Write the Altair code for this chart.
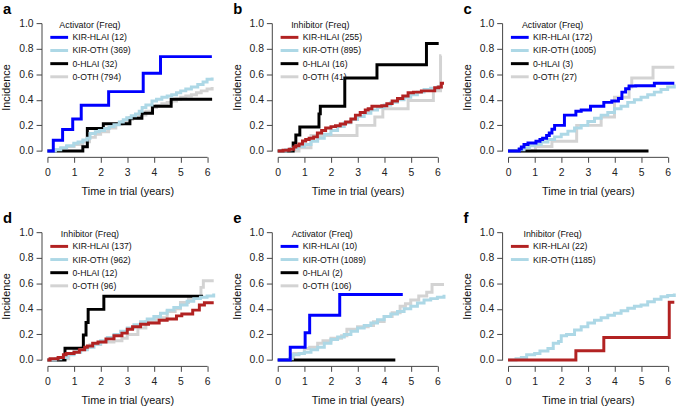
import altair as alt
import pandas as pd

FONT = "Liberation Sans"

# ---- cumulative incidence step curves (time in years, incidence) ----
# panel a: activator
a_kir_hlai_t = [0, 0.22, 0.57, 0.95, 1.27, 2.30, 3.60, 4.25, 6.18]
a_kir_hlai_v = [0, 0.083, 0.167, 0.25, 0.357, 0.464, 0.607, 0.738, 0.738]
a_kir_oth_t = [0, 0.3, 0.5, 0.72, 0.99, 1.15, 1.33, 1.5, 1.6, 1.8, 1.95, 2.15, 2.32, 2.5, 2.7,
               2.85, 2.98, 3.15, 3.31, 3.45, 3.56, 3.7, 3.93, 4.1, 4.3, 4.5, 4.67, 4.85, 5.01,
               5.2, 5.41, 5.65, 5.85, 6.0, 6.19]
a_kir_oth_v = [0, 0.01, 0.025, 0.04, 0.06, 0.07, 0.085, 0.1, 0.137, 0.15, 0.16, 0.175, 0.19, 0.205,
               0.227, 0.245, 0.26, 0.275, 0.29, 0.31, 0.34, 0.36, 0.39, 0.405, 0.42, 0.43, 0.44,
               0.455, 0.47, 0.485, 0.5, 0.52, 0.54, 0.56, 0.575]
a_0_hlai_t = [0, 1.33, 1.5, 2.1, 3.1, 3.55, 3.95, 4.65, 6.19]
a_0_hlai_v = [0, 0.033, 0.175, 0.213, 0.255, 0.295, 0.35, 0.405, 0.405]
a_0_oth_t = [0, 0.3, 0.5, 0.72, 1.0, 1.33, 1.58, 1.8, 2.0, 2.3, 2.57, 2.8, 3.0, 3.2, 3.43, 3.7,
             3.93, 4.1, 4.3, 4.5, 4.67, 4.85, 5.01, 5.2, 5.41, 5.6, 5.78, 6.0, 6.19]
a_0_oth_v = [0, 0.01, 0.02, 0.034, 0.05, 0.072, 0.106, 0.13, 0.15, 0.18, 0.21, 0.23, 0.245, 0.26,
             0.28, 0.31, 0.34, 0.355, 0.37, 0.38, 0.39, 0.405, 0.42, 0.43, 0.44, 0.455, 0.47,
             0.485, 0.5]

# panel b: inhibitor
b_kir_hlai_t = [0, 0.2, 0.43, 0.6, 0.68, 0.8, 0.93, 1.05, 1.18, 1.35, 1.49, 1.65, 1.8, 2.0, 2.17,
                2.35, 2.55, 2.75, 2.92, 3.1, 3.29, 3.4, 3.54, 3.75, 3.91, 4.1, 4.3, 4.5, 4.7,
                4.9, 5.1, 5.4, 5.6, 5.9, 6.05, 6.15, 6.25]
b_kir_hlai_v = [0, 0.005, 0.013, 0.03, 0.04, 0.055, 0.077, 0.09, 0.1, 0.11, 0.14, 0.16, 0.18, 0.19,
                0.197, 0.21, 0.226, 0.25, 0.28, 0.3, 0.32, 0.33, 0.35, 0.35, 0.354, 0.37, 0.39,
                0.41, 0.43, 0.456, 0.46, 0.47, 0.47, 0.495, 0.5, 0.53, 0.53]
b_kir_oth_t = [0, 0.3, 0.5, 0.75, 1.0, 1.25, 1.5, 1.75, 2.0, 2.25, 2.5, 2.75, 3.0, 3.25, 3.5, 3.75,
               4.0, 4.25, 4.5, 4.75, 5.0, 5.25, 5.5, 5.75, 6.0, 6.15]
b_kir_oth_v = [0, 0.01, 0.02, 0.035, 0.05, 0.075, 0.1, 0.13, 0.16, 0.19, 0.22, 0.245, 0.27, 0.295,
               0.32, 0.34, 0.36, 0.38, 0.4, 0.42, 0.44, 0.46, 0.48, 0.49, 0.5, 0.51]
b_0_hlai_t = [0, 0.58, 0.68, 0.83, 1.55, 1.6, 2.52, 3.73, 5.59, 6.05]
b_0_hlai_v = [0, 0.0625, 0.125, 0.1875, 0.29, 0.35, 0.57, 0.675, 0.84, 0.84]
b_0_oth_t = [0, 0.8, 1.25, 2.98, 3.65, 3.95, 4.9, 5.85, 6.12, 6.15]
b_0_oth_v = [0, 0.025, 0.12, 0.2, 0.265, 0.33, 0.395, 0.47, 0.745, 0.745]

# panel c: activator
c_kir_hlai_t = [0, 0.42, 0.5, 0.6, 0.75, 1.05, 1.2, 1.3, 1.45, 1.55, 1.65, 1.75, 2.05, 2.12, 2.55,
                2.75, 3.1, 3.5, 3.6, 3.9, 4.15, 4.28, 4.42, 4.55, 4.8, 5.5, 6.25]
c_kir_hlai_v = [0, 0.015, 0.03, 0.05, 0.062, 0.075, 0.09, 0.1, 0.12, 0.14, 0.17, 0.2, 0.2, 0.28,
                0.31, 0.32, 0.35, 0.35, 0.38, 0.39, 0.41, 0.46, 0.487, 0.508, 0.51, 0.53, 0.53]
c_kir_oth_t = [0, 0.4, 0.6, 0.8, 1.0, 1.25, 1.5, 1.75, 2.0, 2.25, 2.5, 2.75, 3.0, 3.25, 3.5, 3.75,
               4.0, 4.25, 4.5, 4.75, 5.0, 5.25, 5.5, 5.75, 6.0, 6.25]
c_kir_oth_v = [0, 0.01, 0.025, 0.04, 0.05, 0.07, 0.09, 0.11, 0.13, 0.155, 0.18, 0.2, 0.23, 0.255,
               0.28, 0.3, 0.33, 0.35, 0.38, 0.4, 0.42, 0.44, 0.46, 0.48, 0.5, 0.52]
c_0_hlai_t = [0, 5.28]
c_0_hlai_v = [0, 0]
c_0_oth_t = [0, 1.03, 1.65, 2.58, 3.5, 4.0, 4.55, 4.65, 5.45, 6.25]
c_0_oth_v = [0, 0.035, 0.075, 0.2, 0.265, 0.42, 0.5, 0.57, 0.655, 0.655]

# panel d: inhibitor
d_kir_hlai_t = [0, 0.1, 0.4, 0.6, 0.7, 1.0, 1.2, 1.4, 1.5, 1.7, 1.9, 2.2, 2.5, 2.8, 3.0, 3.2, 3.5,
                3.8, 4.2, 4.5, 4.85, 5.05, 5.46, 5.71, 5.9, 6.25]
d_kir_hlai_v = [0, 0.01, 0.02, 0.04, 0.05, 0.06, 0.08, 0.1, 0.11, 0.13, 0.14, 0.165, 0.19, 0.21,
                0.24, 0.26, 0.28, 0.29, 0.31, 0.32, 0.345, 0.36, 0.39, 0.43, 0.447, 0.447]
d_kir_oth_t = [0, 0.3, 0.5, 0.75, 1.0, 1.25, 1.5, 1.75, 2.0, 2.25, 2.5, 2.75, 3.0, 3.25, 3.5, 3.75,
               4.0, 4.25, 4.5, 4.75, 5.0, 5.25, 5.5, 5.75, 6.0, 6.25]
d_kir_oth_v = [0, 0.01, 0.02, 0.04, 0.06, 0.08, 0.1, 0.125, 0.15, 0.175, 0.2, 0.225, 0.25, 0.275,
               0.3, 0.32, 0.34, 0.365, 0.39, 0.41, 0.43, 0.46, 0.48, 0.49, 0.5, 0.52]
d_0_hlai_t = [0, 0.66, 1.35, 1.45, 1.53, 2.12, 5.85]
d_0_hlai_v = [0, 0.0925, 0.195, 0.293, 0.396, 0.499, 0.499]
d_0_oth_t = [0, 0.5, 0.8, 1.0, 1.3, 1.6, 2.0, 2.5, 2.8, 3.0, 3.4, 3.7, 4.1, 4.5, 4.8, 5.0, 5.3,
             5.59, 5.77, 5.86, 6.25]
d_0_oth_v = [0, 0.01, 0.05, 0.08, 0.1, 0.12, 0.14, 0.15, 0.17, 0.2, 0.25, 0.3, 0.33, 0.38, 0.4,
             0.45, 0.48, 0.49, 0.568, 0.62, 0.62]

# panel e: activator
e_kir_hlai_t = [0, 0.47, 1.03, 1.2, 2.33, 4.7]
e_kir_hlai_v = [0, 0.1, 0.213, 0.35, 0.513, 0.513]
e_kir_oth_t = [0, 0.45, 0.55, 0.8, 1.0, 1.25, 1.5, 1.75, 2.0, 2.25, 2.5, 2.75, 3.0, 3.25, 3.5, 3.75,
               4.0, 4.25, 4.5, 4.75, 5.0, 5.25, 5.5, 5.75, 6.0, 6.25]
e_kir_oth_v = [0, 0.01, 0.04, 0.05, 0.06, 0.08, 0.1, 0.13, 0.16, 0.18, 0.2, 0.225, 0.25, 0.27,
               0.29, 0.315, 0.34, 0.36, 0.38, 0.4, 0.42, 0.445, 0.47, 0.48, 0.49, 0.51]
e_0_hlai_t = [0, 4.42]
e_0_hlai_v = [0, 0]
e_0_oth_t = [0, 0.5, 0.6, 1.0, 1.2, 1.5, 1.7, 2.0, 2.4, 2.6, 3.0, 3.4, 3.6, 4.0, 4.3, 4.6, 4.8,
             5.0, 5.3, 5.6, 5.8, 6.25]
e_0_oth_v = [0, 0.02, 0.05, 0.09, 0.1, 0.13, 0.15, 0.17, 0.19, 0.24, 0.26, 0.27, 0.3, 0.34, 0.37,
             0.42, 0.44, 0.47, 0.5, 0.53, 0.59, 0.59]

# panel f: inhibitor
f_kir_hlai_t = [0, 2.55, 3.6, 6.06, 6.25]
f_kir_hlai_v = [0, 0.072, 0.175, 0.452, 0.452]
f_kir_oth_t = [0, 0.3, 0.5, 0.7, 1.0, 1.2, 1.5, 1.7, 1.9, 2.0, 2.2, 2.5, 2.75, 3.0, 3.25, 3.5,
               3.75, 4.0, 4.25, 4.5, 4.75, 5.0, 5.25, 5.5, 5.75, 6.0, 6.25]
f_kir_oth_v = [0, 0.01, 0.02, 0.04, 0.05, 0.07, 0.09, 0.13, 0.145, 0.19, 0.2, 0.235, 0.26, 0.29,
               0.31, 0.33, 0.35, 0.365, 0.385, 0.405, 0.42, 0.43, 0.455, 0.475, 0.495, 0.505, 0.52]

# group sizes shown in the legends
freq = {
    "a": [12, 369, 32, 794],
    "b": [255, 895, 16, 41],
    "c": [172, 1005, 3, 27],
    "d": [137, 962, 12, 96],
    "e": [10, 1089, 2, 106],
    "f": [22, 1185],
}
x_ticks = [0, 1, 2, 3, 4, 5, 6]
y_ticks = [0.0, 0.2, 0.4, 0.6, 0.8, 1.0]

GROUPS = ["KIR-HLAI", "KIR-OTH", "0-HLAI", "0-OTH"]
BLUE = "#0000ff"
RED = "#b22222"
LIGHTBLUE = "#add8e6"
GREY = "#d3d3d3"

PANEL_W = 161.5
PANEL_H = 129.3
LINE_W = 3

# a long horizontal legend key starting at the left of a small symbol box,
# so the rows stay tight and the legend title centres over key + label
KEY_PATH = "M-1,0H6.2"


def km_panel(letter, receptor, curves):
    names = GROUPS[: len(curves)]
    labels = [f"{n} ({f})" for n, f in zip(names, freq[letter])]
    rows = []
    for lab, (ts, vs) in zip(labels, curves):
        for t, v in zip(ts, vs):
            rows.append({"time": t, "incidence": v, "group": lab})
    df = pd.DataFrame(rows)

    main = BLUE if receptor == "Activator" else RED
    palette = [main, LIGHTBLUE, "#000000", GREY][: len(curves)]

    base = alt.Chart(df).encode(
        x=alt.X(
            "time:Q",
            scale=alt.Scale(domain=[0, 6], nice=False, zero=False),
            axis=alt.Axis(values=x_ticks, format="d", title="Time in trial (years)"),
        ),
        y=alt.Y(
            "incidence:Q",
            scale=alt.Scale(domain=[0, 1], nice=False),
            axis=alt.Axis(values=y_ticks, format=".1f", title="Incidence"),
        ),
        color=alt.Color(
            "group:N",
            scale=alt.Scale(domain=labels, range=palette),
            legend=alt.Legend(
                title=f"{receptor} (Freq)",
                orient="none",
                legendX=1,
                legendY=-2.5,
                symbolType=KEY_PATH,
                symbolSize=25,
                symbolStrokeWidth=LINE_W,
                symbolFillColor="transparent",
                labelFontSize=8.8,
                labelFont=FONT,
                labelColor="#111",
                labelOffset=15.5,
                titleFontSize=9,
                titleFont=FONT,
                titleFontWeight="normal",
                titleColor="#111",
                titleAnchor="middle",
                titlePadding=3.5,
                rowPadding=0.3,
                padding=0,
            ),
        ),
    )

    # draw the reference groups first so the KIR-HLAI curve sits on top
    layers = [
        base.transform_filter(alt.datum.group == lab).mark_line(
            interpolate="step-after", strokeWidth=LINE_W, clip=False
        )
        for lab in reversed(labels)
    ]
    return alt.layer(*layers).properties(
        width=PANEL_W,
        height=PANEL_H,
        title=alt.TitleParams(
            letter,
            anchor="start",
            frame="group",
            dx=-45,
            offset=1,
            fontSize=15,
            fontWeight="bold",
            font=FONT,
            color="#000",
        ),
    )


panels = [
    km_panel("a", "Activator", [(a_kir_hlai_t, a_kir_hlai_v), (a_kir_oth_t, a_kir_oth_v),
                                (a_0_hlai_t, a_0_hlai_v), (a_0_oth_t, a_0_oth_v)]),
    km_panel("b", "Inhibitor", [(b_kir_hlai_t, b_kir_hlai_v), (b_kir_oth_t, b_kir_oth_v),
                                (b_0_hlai_t, b_0_hlai_v), (b_0_oth_t, b_0_oth_v)]),
    km_panel("c", "Activator", [(c_kir_hlai_t, c_kir_hlai_v), (c_kir_oth_t, c_kir_oth_v),
                                (c_0_hlai_t, c_0_hlai_v), (c_0_oth_t, c_0_oth_v)]),
    km_panel("d", "Inhibitor", [(d_kir_hlai_t, d_kir_hlai_v), (d_kir_oth_t, d_kir_oth_v),
                                (d_0_hlai_t, d_0_hlai_v), (d_0_oth_t, d_0_oth_v)]),
    km_panel("e", "Activator", [(e_kir_hlai_t, e_kir_hlai_v), (e_kir_oth_t, e_kir_oth_v),
                                (e_0_hlai_t, e_0_hlai_v), (e_0_oth_t, e_0_oth_v)]),
    km_panel("f", "Inhibitor", [(f_kir_hlai_t, f_kir_hlai_v), (f_kir_oth_t, f_kir_oth_v)]),
]

chart = (
    alt.concat(*panels, columns=3, spacing={"row": 81.5, "column": 71}, bounds="flush")
    .resolve_scale(color="independent", x="independent", y="independent")
    .resolve_legend(color="independent")
    .configure(padding={"left": 0, "top": 0, "right": 0, "bottom": 0}, background="white")
    .configure_view(stroke=None)
    .configure_axis(
        grid=False,
        domainColor="#444",
        domainWidth=1,
        tickColor="#444",
        tickWidth=1,
        tickSize=5.5,
        offset=6,
        labelFont=FONT,
        labelFontSize=10.5,
        labelColor="#222",
        titleFont=FONT,
        titleFontSize=11,
        titleFontWeight="normal",
        titleColor="#111",
    )
    .configure_axisX(labelPadding=5.5, titlePadding=7.5, labelFlush=False)
    .configure_axisY(labelPadding=3, titlePadding=7)
)

chart.save("out.html", embed_options={"renderer": "svg", "actions": False})
